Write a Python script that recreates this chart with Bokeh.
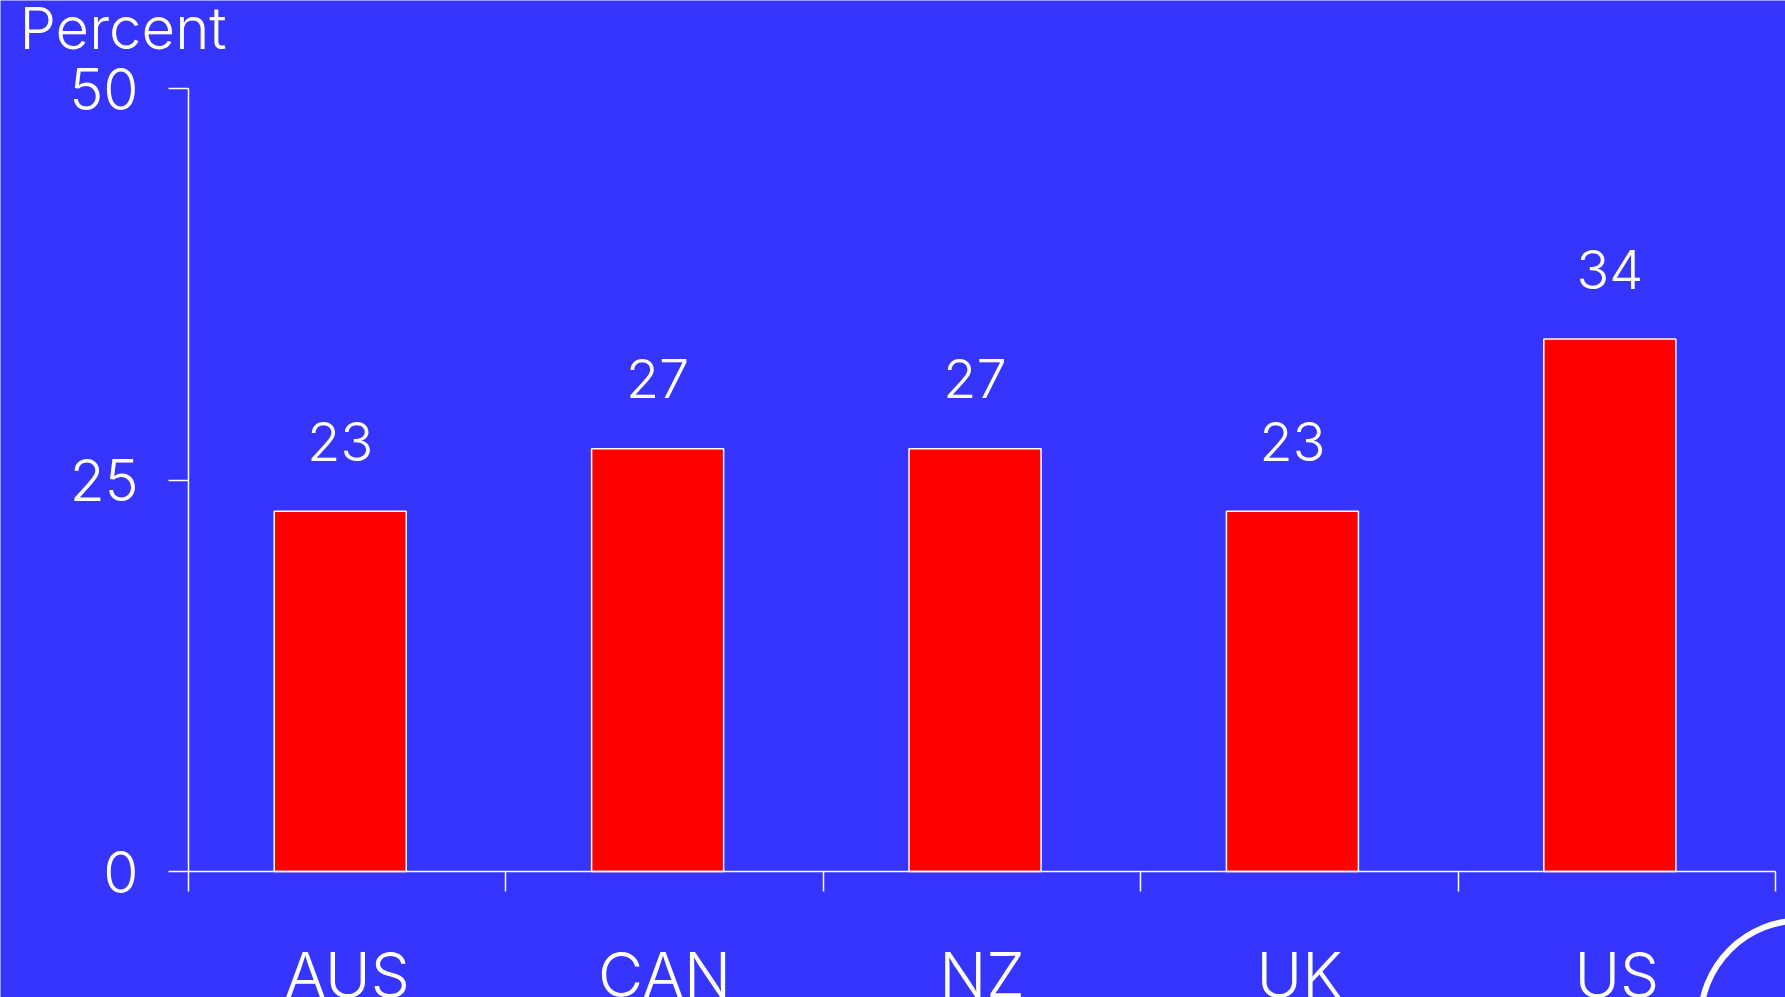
from bokeh.plotting import figure
from bokeh.models import (Range1d, FixedTicker, Label, ColumnDataSource,
                          CustomJSTickFormatter, LinearAxis)
from bokeh.core.properties import value
from bokeh.embed import file_html
from bokeh.resources import INLINE

categories = ["AUS", "CAN", "NZ", "UK", "US"]
percent = [23, 27, 27, 23, 34]
y_ticks = [0, 25, 50]
y_title = "Percent"

BG = "#3535FF"
FONT = "Inter Light, Lato Light, Roboto Light, Inter"
W, H = 1785, 997
Y_MAX = 50

# pixel geometry of the plotting area (the frame covers the whole canvas)
X0_PX, X1_PX = 188, 1775      # x = 0 and x = n categories
Y0_PX, YTOP_PX = 871, 88      # y = 0 and y = Y_MAX
n = len(categories)
px_per_x = (X1_PX - X0_PX) / n
px_per_y = (Y0_PX - YTOP_PX) / Y_MAX


def dx(px):
    return (px - X0_PX) / px_per_x


def dy(py):
    return (Y0_PX - py) / px_per_y


centers = [i + 0.5 for i in range(n)]
bar_x = [c - 0.022 for c in centers]

src = ColumnDataSource(dict(
    x=bar_x, top=percent, lab=[str(v) for v in percent],
))

p = figure(width=W, height=H, output_backend="svg", toolbar_location=None,
           x_range=Range1d(dx(0), dx(W)), y_range=Range1d(dy(H), dy(0)),
           min_border=0, x_axis_location=None, y_axis_location=None)
p.background_fill_color = BG
p.border_fill_color = BG
p.outline_line_color = None
p.grid.visible = False

xa = LinearAxis(fixed_location=0, bounds=(0, n))
xa.ticker = FixedTicker(ticks=centers, minor_ticks=list(range(n + 1)))
xa.formatter = CustomJSTickFormatter(args=dict(cats=categories),
                                     code="return cats[Math.floor(tick)];")
xa.major_tick_line_color = None
xa.major_tick_out = 0
xa.major_tick_in = 0
xa.minor_tick_out = 20
xa.minor_tick_in = 0
xa.minor_tick_line_color = "white"
xa.minor_tick_line_width = 1.5
xa.axis_line_color = "white"
xa.axis_line_width = 1.5
xa.major_label_text_font = FONT
xa.major_label_text_font_size = "62px"
xa.major_label_text_color = "white"
xa.major_label_standoff = 45
p.add_layout(xa, "below")

ya = LinearAxis(fixed_location=0, bounds=(0, Y_MAX))
ya.ticker = FixedTicker(ticks=y_ticks)
ya.major_label_text_font = FONT
ya.major_label_text_font_size = "57px"
ya.major_label_text_color = "white"
ya.major_tick_out = 20
ya.major_tick_in = 0
ya.minor_tick_line_color = None
ya.axis_line_color = "white"
ya.major_tick_line_color = "white"
ya.axis_line_width = 1.5
ya.major_tick_line_width = 1.5
ya.major_label_standoff = 30
p.add_layout(ya, "left")

p.vbar(x="x", top="top", width=0.416, bottom=0, source=src,
       fill_color="#FF0000", line_color="white", line_width=1.5)

p.text(x="x", y="top", text="lab", source=src, y_offset=-70,
       text_align="center", text_baseline="alphabetic", text_color="white",
       text_font=value(FONT), text_font_size="54px")

title = Label(x=dx(19), y=dy(27), text=y_title,
              text_color="white", text_font=FONT, text_font_size="58px",
              text_baseline="alphabetic", text_align="left")
p.add_layout(title)

# decorative badge outline, partly off the bottom-right corner
p.scatter(x=[dx(1800)], y=[dy(1020)], size=200, marker="circle",
          fill_color=None, line_color="white", line_width=6)

open("out.html", "w").write(file_html(p, INLINE))
